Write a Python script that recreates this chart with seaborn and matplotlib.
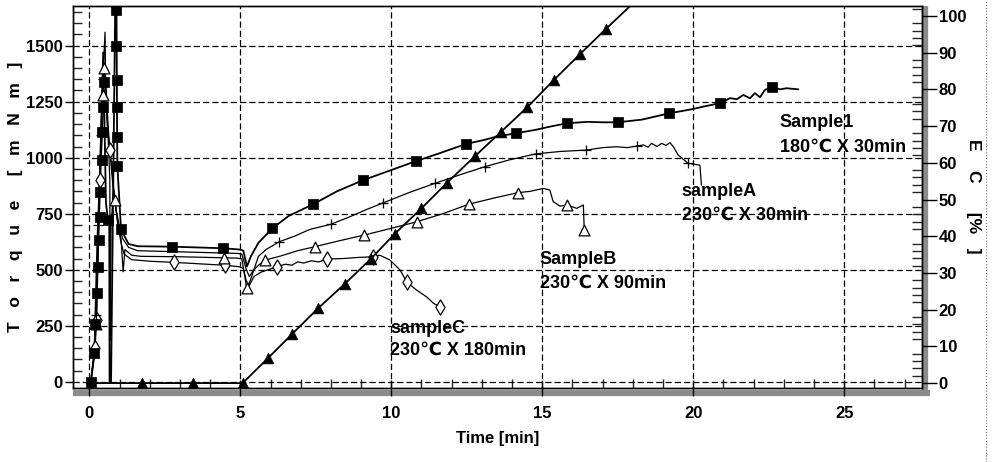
import seaborn as sns
import matplotlib
matplotlib.use("Agg")
import matplotlib.pyplot as plt
from matplotlib.lines import Line2D
from matplotlib.ticker import MultipleLocator

# ---- Sample1 (filled squares) ----
s1_t = [0.05, 0.17, 0.22, 0.27, 0.33, 0.37, 0.41, 0.46, 0.55, 0.62, 0.66, 0.67, 0.72, 0.86,
        0.90, 0.92, 0.93, 1.05, 1.30, 1.60, 2.75, 4.44, 5.00, 5.10, 5.22, 5.35, 5.60, 6.06,
        6.60, 7.42, 8.20, 9.07, 10.00, 10.82, 11.60, 12.46, 13.10, 13.50, 14.13, 14.80,
        15.30, 15.83, 16.50, 17.00, 17.50, 18.30, 19.20, 19.90, 20.40, 20.88, 21.22, 21.44,
        21.66, 21.88, 22.04, 22.21, 22.37, 22.60, 22.87, 23.09, 23.48]
s1_v = [0, 130, 400, 640, 850, 1000, 1230, 1470, 800, 720, 715, 0, 0, 1720,
        1650, 1100, 960, 680, 615, 605, 603, 596, 590, 585, 515, 560, 620, 685,
        740, 793, 850, 900, 945, 985, 1020, 1061, 1080, 1095, 1109, 1125,
        1140, 1154, 1160, 1158, 1158, 1170, 1198, 1215, 1230, 1243, 1266, 1261,
        1280, 1265, 1288, 1270, 1302, 1317, 1305, 1310, 1305]
s1_mt = [0.05, 0.17, 0.20, 0.24, 0.29, 0.31, 0.34, 0.37, 0.41, 0.43, 0.45, 0.47, 0.62,
         0.885, 0.90, 0.905, 0.91, 0.92, 0.93, 1.05, 2.75, 4.44, 6.06, 7.42, 9.07, 10.82,
         12.46, 14.13, 15.83, 17.50, 19.20, 20.88, 22.60]
s1_mv = [0, 127, 260, 395, 513, 633, 737, 848, 990, 1116, 1228, 1339, 721,
         1659, 1497, 1347, 1228, 1094, 963, 680, 603, 596, 685, 793, 900, 985,
         1061, 1109, 1154, 1158, 1198, 1243, 1317]

# ---- sampleA (plus) ----
sa_t = [0.05, 0.15, 0.22, 0.30, 0.38, 0.45, 0.52, 0.55, 0.62, 0.68, 0.69, 0.72, 0.80, 0.90,
        1.00, 1.10, 1.30, 1.60, 3.00, 4.90, 5.05, 5.20, 5.30, 5.45, 5.60, 5.85, 6.29, 6.80,
        7.30, 8.00, 8.60, 9.20, 9.74, 10.60, 11.45, 12.30, 13.10, 13.90, 14.78, 15.60,
        16.45, 17.00, 17.46, 17.80, 18.13, 18.35, 18.50, 18.62, 18.80, 18.95, 19.10, 19.23,
        19.34, 19.50, 19.83, 20.22, 20.27]
sa_v = [0, 120, 300, 700, 1100, 1350, 1560, 1250, 1100, 900, 186, 700, 850, 760,
        690, 640, 600, 585, 580, 573, 570, 500, 470, 500, 560, 590, 625, 650,
        680, 703, 735, 770, 799, 845, 886, 925, 960, 990, 1017, 1028,
        1034, 1045, 1049, 1045, 1052, 1057, 1047, 1064, 1050, 1064, 1055, 1067,
        1049, 1012, 975, 967, 878]
sa_mt = [0.22, 0.30, 0.38, 0.45, 6.29, 8.00, 9.74, 11.45, 13.10, 14.78, 16.45, 18.13, 19.83]
sa_mv = [300, 700, 1100, 1350, 625, 703, 799, 886, 960, 1017, 1034, 1052, 975]

# ---- SampleB (open triangles) ----
sb_t = [0.05, 0.15, 0.23, 0.30, 0.37, 0.44, 0.50, 0.56, 0.62, 0.70, 0.78, 0.85, 0.95, 1.05,
        1.12, 1.18, 1.40, 1.70, 3.00, 4.90, 5.05, 5.15, 5.21, 5.30, 5.45, 5.60, 5.82, 6.30,
        6.90, 7.47, 8.30, 9.11, 10.00, 10.84, 11.70, 12.58, 13.40, 14.19, 14.60, 15.03,
        15.25, 15.36, 15.59, 15.83, 16.14, 16.36, 16.39]
sb_v = [0, 110, 260, 650, 1000, 1280, 1400, 1300, 1150, 1000, 880, 811, 700, 640,
        491, 590, 565, 560, 558, 552, 548, 470, 417, 440, 500, 520, 543, 560,
        585, 603, 630, 655, 685, 714, 750, 793, 820, 844, 850, 863,
        856, 804, 784, 789, 774, 789, 677]
sb_mt = [0.23, 0.44, 0.50, 0.85, 4.45, 5.21, 5.82, 7.47, 9.11, 10.84, 12.58, 14.19, 15.83, 16.39]
sb_mv = [260, 1280, 1400, 811, 553, 417, 543, 603, 655, 714, 793, 844, 789, 677]

# ---- sampleC (open diamonds) ----
sc_t = [0.05, 0.15, 0.19, 0.24, 0.30, 0.37, 0.44, 0.50, 0.56, 0.62, 0.69, 0.78, 0.87, 0.95,
        1.05, 1.15, 1.40, 2.00, 2.80, 4.50, 5.00, 5.10, 5.20, 5.30, 5.45, 5.70, 6.20, 6.50,
        6.70, 6.90, 7.10, 7.35, 7.60, 7.88, 8.40, 8.90, 9.40, 9.62, 9.96, 10.29, 10.51,
        10.84, 11.17, 11.40, 11.61]
sc_v = [0, 100, 149, 275, 600, 900, 1150, 1300, 1250, 1100, 1034, 900, 780, 700,
        620, 570, 545, 538, 533, 520, 513, 505, 450, 430, 470, 490, 513, 525,
        520, 535, 530, 540, 535, 548, 550, 555, 558, 565, 543, 499, 446,
        409, 379, 350, 335]
sc_mt = [0.19, 0.24, 0.37, 0.69, 2.80, 4.50, 6.20, 7.88, 9.40, 10.51, 11.61]
sc_mv = [149, 275, 900, 1034, 533, 520, 513, 548, 558, 446, 335]

# ---- EC [%] (filled triangles, right axis) ----
ec_t = [0.0, 1.73, 3.42, 5.08, 5.93, 6.72, 7.58, 8.47, 9.33, 10.12, 11.0, 11.85, 12.77,
        13.63, 14.5, 15.39, 16.25, 17.1, 18.0]
ec_v = [0, 0, 0, 0, 6.9, 13.4, 20.4, 27.1, 33.9, 40.7, 47.6, 54.6, 61.8,
        68.4, 75.1, 82.6, 89.6, 96.4, 103.4]

labels = [
    ("Sample1", "180\u2103 X 30min", 22.87, 1155, 1048),
    ("sampleA", "230\u2103 X 30min", 19.62, 851, 744),
    ("SampleB", "230\u2103 X 90min", 14.92, 546, 438),
    ("sampleC", "230\u2103 X 180min", 9.96, 240, 142),
]

sns.set_style("ticks")
plt.rcParams["font.family"] = ["Liberation Sans", "DejaVu Sans"]
plt.rcParams["font.weight"] = "bold"
plt.rcParams["text.color"] = "k"
plt.rcParams["axes.labelcolor"] = "k"
plt.rcParams["axes.labelweight"] = "bold"

fig = plt.figure(figsize=(9.92, 4.62), dpi=100)
ax = fig.add_axes([0.0733, 0.160, 0.856, 0.827])
ax2 = ax.twinx()

grid_ls = (0, (5, 2.4))
ax.set_xlim(-0.55, 27.57)
ax.set_ylim(-28, 1677)
ax2.set_ylim(-1.36, 102.7)
ax.set_xticks([0, 5, 10, 15, 20, 25])
ax.set_yticks([0, 250, 500, 750, 1000, 1250, 1500])
ax.xaxis.set_minor_locator(MultipleLocator(1))
ax.yaxis.set_minor_locator(MultipleLocator(50))
ax2.set_yticks(range(0, 101, 10))
ax2.yaxis.set_minor_locator(MultipleLocator(2))
ax.grid(True, which="major", color="k", lw=0.9, ls=grid_ls)
ax.set_axisbelow(True)

lw_thin = 0.9
sns.lineplot(x=s1_t, y=s1_v, ax=ax, color="k", lw=1.3, estimator=None, sort=False)
sns.lineplot(x=sa_t, y=sa_v, ax=ax, color="k", lw=lw_thin, estimator=None, sort=False)
sns.lineplot(x=sb_t, y=sb_v, ax=ax, color="k", lw=lw_thin, estimator=None, sort=False)
sns.lineplot(x=sc_t, y=sc_v, ax=ax, color="k", lw=lw_thin, estimator=None, sort=False)

sns.scatterplot(x=sc_mt, y=sc_mv, ax=ax, marker="d", s=60, color="white",
                edgecolor="k", linewidth=0.9, zorder=4)
sns.scatterplot(x=sb_mt, y=sb_mv, ax=ax, marker="^", s=60, color="white",
                edgecolor="k", linewidth=0.9, zorder=4)
sns.scatterplot(x=sa_mt, y=sa_mv, ax=ax, marker="+", s=50, color="k",
                linewidth=0.9, zorder=4)
sns.scatterplot(x=s1_mt, y=s1_mv, ax=ax, marker="s", s=45, color="k",
                edgecolor="k", linewidth=0.5, zorder=5)

sns.lineplot(x=ec_t, y=ec_v, ax=ax2, color="k", lw=1.3, estimator=None, sort=False)
sns.scatterplot(x=ec_t[1:-1], y=ec_v[1:-1], ax=ax2, marker="^", s=60, color="k",
                edgecolor="k", linewidth=0.5, zorder=5)

for name, cond, tx, y1, y2 in labels:
    ax.text(tx, y1, name, fontsize=13, va="center", ha="left", zorder=6)
    ax.text(tx, y2, cond, fontsize=13, va="center", ha="left", zorder=6)

# axes frame and ticks
for a in (ax, ax2):
    for sp in a.spines.values():
        sp.set_color("k")
        sp.set_linewidth(1.0)
ax.tick_params(axis="x", which="major", direction="inout", length=12, width=1,
               labelsize=12, pad=7, colors="k")
ax.tick_params(axis="x", which="minor", direction="in", length=6.5, width=1)
ax.tick_params(axis="y", which="major", direction="out", length=6, width=1,
               labelsize=12, pad=1, colors="k")
ax.tick_params(axis="y", which="minor", direction="in", length=6.5, width=1)
ax2.tick_params(axis="y", which="major", direction="out", length=11, width=1,
                labelsize=12, pad=1, colors="k")
ax2.tick_params(axis="y", which="minor", direction="in", length=7, width=1)
ax.tick_params(top=False, right=False)
ax2.tick_params(left=False)

# shaded bands along bottom and right axes (as in the scanned figure)
ax.plot([0, 1.01], [-0.013, -0.013], transform=ax.transAxes, color="#8c8c8c",
        lw=4.5, clip_on=False, solid_capstyle="butt", zorder=0)
ax.plot([1.004, 1.004], [-0.013, 1.0], transform=ax.transAxes, color="#8c8c8c",
        lw=4.5, clip_on=False, solid_capstyle="butt", zorder=0)

ax.set_xlabel("Time [min]", fontsize=12, labelpad=7)
ax.set_ylabel("")
ax2.set_ylabel("")
fig.text(0.016, 0.575, "T   o   r   q   u   e     [   m   N   m   ]", rotation=90,
         fontsize=12.5, ha="center", va="center")
fig.text(0.981, 0.575, "E    C      [%   ]", rotation=-90,
         fontsize=12.5, ha="center", va="center")

fig.add_artist(Line2D([0.994, 0.994], [0.0, 1.0], transform=fig.transFigure,
                      color="#777777", lw=0.8, ls=":"))

fig.savefig("out.png", dpi=100)
